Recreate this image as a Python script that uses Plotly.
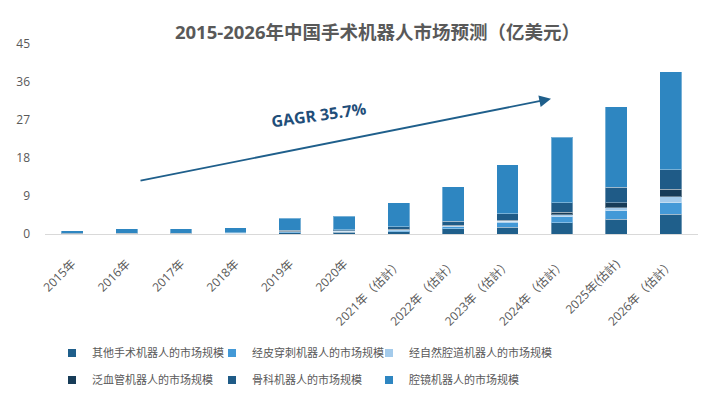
import plotly.graph_objects as go

categories = ["2015年", "2016年", "2017年", "2018年", "2019年", "2020年",
              "2021年（估計）", "2022年（估計）", "2023年（估計）", "2024年（估計）",
              "2025年(估計)", "2026年（估計）"]

other_robot = [0.05, 0.07, 0.07, 0.10, 0.35, 0.40, 0.50, 1.20, 1.65, 2.70, 3.55, 4.70]
percutaneous = [0.02, 0.03, 0.03, 0.05, 0.15, 0.18, 0.35, 0.55, 1.10, 1.40, 1.90, 2.70]
natural_orifice = [0.01, 0.01, 0.01, 0.02, 0.05, 0.06, 0.15, 0.15, 0.25, 0.50, 0.80, 1.40]
vascular = [0.01, 0.01, 0.01, 0.02, 0.07, 0.08, 0.10, 0.15, 0.25, 0.55, 1.20, 1.80]
orthopedic = [0.06, 0.08, 0.08, 0.11, 0.25, 0.28, 0.60, 1.00, 1.60, 2.30, 3.60, 4.60]
laparoscopic = [0.65, 1.00, 1.00, 1.20, 2.83, 3.15, 5.70, 8.20, 11.55, 15.45, 19.05, 23.20]

series_names = ["其他手术机器人的市场规模", "经皮穿刺机器人的市场规模", "经自然腔道机器人的市场规模",
                "泛血管机器人的市场规模", "骨科机器人的市场规模", "腔镜机器人的市场规模"]
series_values = [other_robot, percutaneous, natural_orifice, vascular, orthopedic, laparoscopic]
series_colors = ["#1f5f8b", "#4399d7", "#a4cbeb", "#173c58", "#1f5b87", "#2e86c1"]

y_ticks = [0, 9, 18, 27, 36, 45]

TXT = "#595959"
FONT = "Open Sans, Noto Sans CJK SC, sans-serif"

fig = go.Figure()
for name, vals, col in zip(series_names, series_values, series_colors):
    fig.add_trace(go.Bar(
        x=categories, y=vals, name=name, showlegend=False,
        marker=dict(color=col, line=dict(color="rgba(255,255,255,0.35)", width=1)),
    ))

# one legend per entry, laid out in a 3x2 grid
legend_cols_px = [71, 231, 388]   # target symbol centres
legend_rows_px = [353, 380]
legend_layout = {}
for i, (name, col) in enumerate(zip(series_names, series_colors)):
    key = "legend" if i == 0 else f"legend{i + 1}"
    fig.add_trace(go.Scatter(
        x=[None], y=[None], mode="markers", name=name,
        marker=dict(symbol="square", size=8, color=col),
        legend=key,
    ))
    cx = legend_cols_px[i % 3]
    cy = legend_rows_px[i // 3]
    legend_layout[key] = dict(
        orientation="h", xanchor="left", yanchor="middle",
        x=(cx - 19 - 45) / 653, y=1 - cy / 394,
        xref="paper", yref="container",
        font=dict(family=FONT, size=11, color=TXT),
        itemsizing="trace", bgcolor="rgba(0,0,0,0)",
    )

fig.update_layout(
    width=701, height=394,
    margin=dict(l=45, r=3, t=44, b=160, autoexpand=False),
    paper_bgcolor="white", plot_bgcolor="white",
    barmode="stack", bargap=0.6,
    font=dict(family=FONT, color=TXT),
    title=dict(text="<b>2015-2026年中国手术机器人市场预测（亿美元）</b>",
               x=0.5 + 6 / 653, xref="paper", xanchor="center",
               y=1 - 33 / 394, yref="container", yanchor="middle",
               font=dict(family=FONT, size=18.5, color=TXT)),
    xaxis=dict(showgrid=False, showline=True, linecolor="#d9d9d9", linewidth=1,
               tickangle=-45, tickfont=dict(family=FONT, size=12, color=TXT),
               ticks="", zeroline=False, ticklabelstandoff=17, automargin=False),
    yaxis=dict(range=[0, 45], tickvals=y_ticks, showgrid=False, zeroline=False,
               showline=False, ticks="", ticklabelstandoff=14, automargin=False,
               tickfont=dict(family=FONT, size=12, color=TXT)),
    showlegend=True,
    **legend_layout,
)

fig.add_annotation(
    x=(551 - 45) / 653, y=(234.5 - 99) / 190.5, xref="paper", yref="paper",
    ax=-412, ay=82, axref="pixel", ayref="pixel",
    text="", showarrow=True, arrowhead=2, arrowsize=1.3, arrowwidth=1.8,
    arrowcolor="#1f5f8b",
)
fig.add_annotation(
    x=(318 - 45) / 653, y=(234.5 - 115) / 190.5, xref="paper", yref="paper",
    text="<b>GAGR 35.7%</b>", showarrow=False, textangle=-8,
    font=dict(family=FONT, size=16, color="#1f4e79"),
)

fig.write_html("out.html", config={"displayModeBar": False},
               post_script="document.body.style.margin='0px';document.body.style.overflow='hidden';")
